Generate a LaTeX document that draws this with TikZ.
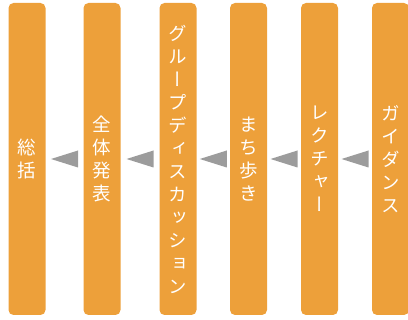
\documentclass[tikz,border=0pt]{standalone}
\usepackage{fontspec}
\newfontfamily\cjkv[RawFeature=+vert]{Noto Sans CJK JP}
\definecolor{barorange}{HTML}{EDA03A}
\definecolor{arrowgray}{HTML}{9C9C9C}
\begin{document}
\begin{tikzpicture}[x=1pt,y=-1pt,
  bar/.style={fill=barorange, draw=none, rounded corners=5pt, minimum width=37pt, minimum height=312pt, inner sep=0pt,
    text=white, font=\cjkv\fontsize{18.5}{23}\selectfont, align=center},
  tri/.style={fill=arrowgray, draw=none}]
\useasboundingbox (0,0) rectangle (408,320);
\node[bar] (b1) at (27,159) {総\\括};
\node[bar] (b2) at (102,159) {全\\体\\発\\表};
\node[bar] (b3) at (178,159) {グ\\ル\\ー\\プ\\デ\\ィ\\ス\\カ\\ッ\\シ\\ョ\\ン};
\node[bar] (b4) at (248.5,159) {ま\\ち\\歩\\き};
\node[bar] (b5) at (319.5,159) {レ\\ク\\チ\\ャ\\ー};
\node[bar] (b6) at (390.5,159) {ガ\\イ\\ダ\\ン\\ス};
\foreach \r/\l in {b2/b1,b3/b2,b4/b3,b5/b4,b6/b5}{
  \path (\l.east) -- (\r.west) coordinate[pos=0.5] (m\l);
  \fill[tri] ([xshift=13.5pt,yshift=8.5pt]m\l) -- ([xshift=13.5pt,yshift=-8.5pt]m\l) -- ([xshift=-13.5pt]m\l) -- cycle;
}
\end{tikzpicture}
\end{document}
